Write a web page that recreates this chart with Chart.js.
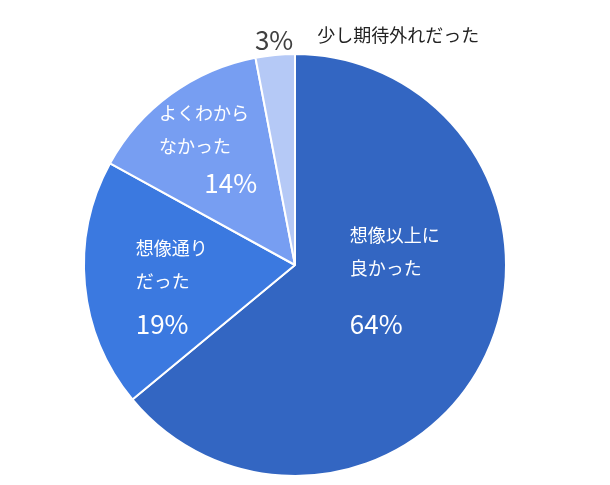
<!DOCTYPE html>
<html><head><meta charset="utf-8">
<script src="https://cdn.jsdelivr.net/npm/chart.js@4/dist/chart.umd.min.js"></script>
<style>body{margin:0;background:#fff}#c{display:block}</style>
</head><body>
<canvas id="c" width="610" height="485"></canvas>
<script>
const categories = ['想像以上に良かった', '想像通りだった', 'よくわからなかった', '少し期待外れだった'];
const values = [64, 19, 14, 3];
const nameLines = [['想像以上に', '良かった'], ['想像通り', 'だった'], ['よくわから', 'なかった'], ['少し期待外れだった']];
const colors = ['#3366c2', '#3b79e0', '#779ef2', '#b5c9f6'];

// label placement relative to pie centre, as fractions of radius
const labelPos = [
  { x: 0.26, y: -0.14, px: 0.26, py: 0.28, inside: true },
  { x: -0.755, y: -0.08, px: -0.755, py: 0.28, inside: true },
  { x: -0.645, y: -0.72, px: -0.43, py: -0.39, inside: true },
  { x: 0.105, y: -1.09, px: -0.19, py: -1.065, inside: false }
];

const labelPlugin = {
  id: 'labels',
  afterDatasetsDraw(chart) {
    const ctx = chart.ctx;
    const arc = chart.getDatasetMeta(0).data[0];
    const cx = arc.x, cy = arc.y, r = arc.outerRadius;
    ctx.save();
    ctx.textAlign = 'left';
    ctx.textBaseline = 'middle';
    values.forEach((v, i) => {
      const p = labelPos[i];
      const font = '"Noto Sans CJK JP", "Noto Sans", sans-serif';
      ctx.fillStyle = p.inside ? '#ffffff' : '#222222';
      ctx.font = '18px ' + font;
      nameLines[i].forEach((line, j) => {
        ctx.fillText(line, cx + p.x * r, cy + p.y * r + j * 33);
      });
      ctx.fillStyle = p.inside ? '#ffffff' : '#404040';
      ctx.font = '26px ' + font;
      ctx.fillText(v + '%', cx + p.px * r, cy + p.py * r);
    });
    ctx.restore();
  }
};

new Chart(document.getElementById('c'), {
  type: 'pie',
  data: {
    labels: categories,
    datasets: [{ data: values, backgroundColor: colors, borderColor: '#ffffff', borderWidth: 2 }]
  },
  options: {
    responsive: false,
    animation: false,
    layout: { padding: { left: 83, right: 103, top: 53, bottom: 8 } },
    plugins: { legend: { display: false }, tooltip: { enabled: false } }
  },
  plugins: [labelPlugin]
});
</script>
</body></html>
